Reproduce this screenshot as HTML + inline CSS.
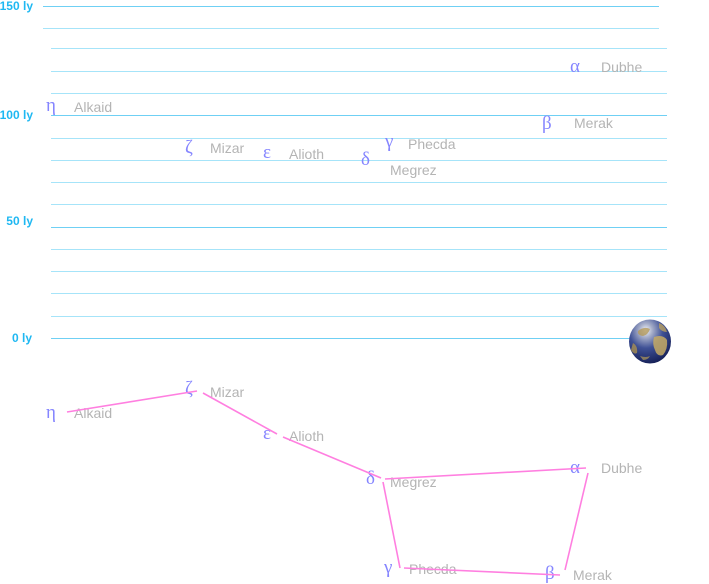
<!DOCTYPE html>
<html><head><meta charset="utf-8"><style>
html,body{margin:0;padding:0;background:#fff;width:709px;height:584px;overflow:hidden}
svg{display:block}
.ax{font-family:"Liberation Sans",Arial,sans-serif;font-weight:bold;font-size:12px;fill:#1fb8f2}
.lb{font-family:"Liberation Sans",Arial,sans-serif;font-size:14px;fill:#b4b4b4}
.gr{font-family:"Liberation Serif","DejaVu Serif",serif;font-size:19px;fill:#8585ff}
.mn{stroke:#a6e4f9;stroke-width:1}
.mj{stroke:#6fd0f4;stroke-width:1}
.pk{stroke:#ff7fe0;stroke-width:1.6;fill:none}
</style></head><body>
<svg width="709" height="584" viewBox="0 0 709 584" xmlns="http://www.w3.org/2000/svg">
<defs>
<radialGradient id="eg" cx="0.4" cy="0.25" r="0.8">
<stop offset="0" stop-color="#f2f4f8"/>
<stop offset="0.2" stop-color="#a4acc8"/>
<stop offset="0.5" stop-color="#3f5196"/>
<stop offset="1" stop-color="#121c52"/>
</radialGradient>
</defs>
<line class="mj" x1="43" y1="6.5" x2="659" y2="6.5"/>
<line class="mn" x1="43" y1="28.5" x2="659" y2="28.5"/>
<line class="mn" x1="51" y1="48.5" x2="667" y2="48.5"/>
<line class="mn" x1="51" y1="71.5" x2="667" y2="71.5"/>
<line class="mn" x1="51" y1="93.5" x2="667" y2="93.5"/>
<line class="mj" x1="51" y1="115.5" x2="667" y2="115.5"/>
<line class="mn" x1="51" y1="138.5" x2="667" y2="138.5"/>
<line class="mn" x1="51" y1="160.5" x2="667" y2="160.5"/>
<line class="mn" x1="51" y1="182.5" x2="667" y2="182.5"/>
<line class="mn" x1="51" y1="204.5" x2="667" y2="204.5"/>
<line class="mj" x1="51" y1="227.5" x2="667" y2="227.5"/>
<line class="mn" x1="51" y1="249.5" x2="667" y2="249.5"/>
<line class="mn" x1="51" y1="271.5" x2="667" y2="271.5"/>
<line class="mn" x1="51" y1="293.5" x2="667" y2="293.5"/>
<line class="mn" x1="51" y1="316.5" x2="667" y2="316.5"/>
<line class="mj" x1="51" y1="338.5" x2="667" y2="338.5"/>
<text class="ax" x="33" y="10" text-anchor="end">150 ly</text>
<text class="ax" x="33" y="119" text-anchor="end">100 ly</text>
<text class="ax" x="33" y="225" text-anchor="end">50 ly</text>
<text class="ax" x="32" y="342" text-anchor="end">0 ly</text>
<ellipse cx="650" cy="341.5" rx="21" ry="22" fill="url(#eg)"/>
<path d="M638 331 q6 -5 12 -2 q-2 6 -7 7 q-6 -1 -5 -5z" fill="#b49a5a" opacity="0.8"/>
<path d="M654 337 q9 -3 13 3 q1 9 -4 15 q-6 2 -8 -5 q-3 -6 -1 -13z" fill="#c6aa64" opacity="0.85"/>
<path d="M633 343 q5 3 4 10 q-3 2 -6 -3z" fill="#a88f52" opacity="0.8"/>
<path d="M659 323 q6 2 8 9 q-5 0 -8 -4z" fill="#b9a060" opacity="0.8"/>
<path d="M640 356 q6 2 10 0 q-2 4 -7 4z" fill="#b09858" opacity="0.7"/>
<text class="gr" x="46" y="111">η</text><text class="lb" x="74" y="112">Alkaid</text>
<text class="gr" x="185" y="153">ζ</text><text class="lb" x="210" y="153">Mizar</text>
<text class="gr" x="263" y="158">ε</text><text class="lb" x="289" y="159">Alioth</text>
<text class="gr" x="361" y="165">δ</text><text class="lb" x="390" y="175">Megrez</text>
<text class="gr" x="385" y="147">γ</text><text class="lb" x="408" y="149">Phecda</text>
<text class="gr" x="570" y="72">α</text><text class="lb" x="601" y="72">Dubhe</text>
<text class="gr" x="542" y="129">β</text><text class="lb" x="574" y="128">Merak</text>
<text class="gr" x="46" y="418">η</text><text class="lb" x="74" y="418">Alkaid</text>
<text class="gr" x="185" y="394">ζ</text><text class="lb" x="210" y="397">Mizar</text>
<text class="gr" x="263" y="439">ε</text><text class="lb" x="289" y="441">Alioth</text>
<text class="gr" x="366" y="484">δ</text><text class="lb" x="390" y="487">Megrez</text>
<text class="gr" x="570" y="473">α</text><text class="lb" x="601" y="473">Dubhe</text>
<text class="gr" x="384" y="573">γ</text><text class="lb" x="409" y="574">Phecda</text>
<text class="gr" x="545" y="579">β</text><text class="lb" x="573" y="580">Merak</text>
<line class="pk" x1="67" y1="412" x2="197" y2="391"/>
<line class="pk" x1="203" y1="393" x2="277" y2="434"/>
<line class="pk" x1="283" y1="437" x2="381" y2="478"/>
<line class="pk" x1="385" y1="479" x2="586" y2="468"/>
<line class="pk" x1="588" y1="473" x2="565" y2="570"/>
<line class="pk" x1="383" y1="482" x2="400" y2="568"/>
<line class="pk" x1="404" y1="568" x2="560" y2="575"/>
</svg>
</body></html>
